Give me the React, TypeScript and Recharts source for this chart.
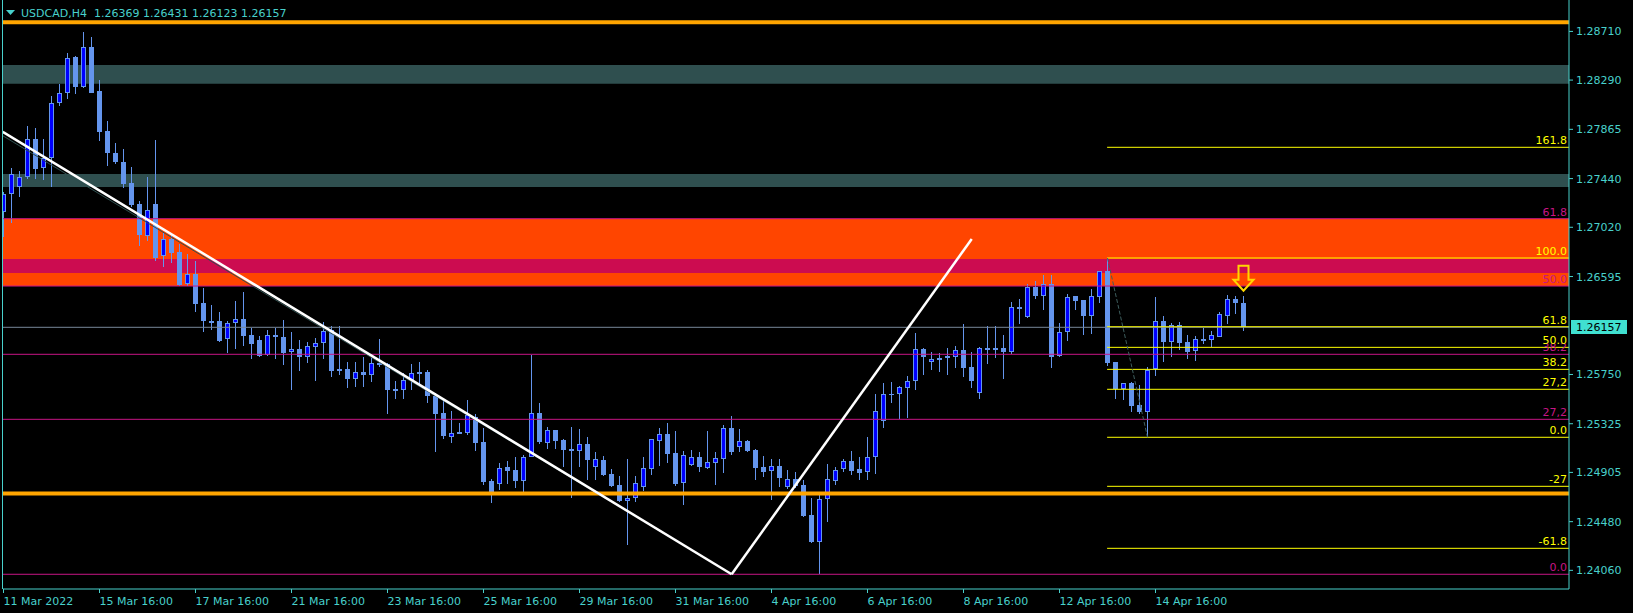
import React from 'react';
import {
  ComposedChart,
  Bar,
  XAxis,
  YAxis,
  ReferenceLine,
  ReferenceArea,
  ReferenceDot,
} from 'recharts';

// ---------- DATA ----------
const opens = [
  1.27154, 1.27305, 1.2737, 1.27451, 1.27779, 1.27529, 1.27615, 1.2809, 1.28176, 1.28489,
  1.28233, 1.28573, 1.28196, 1.27851, 1.27661, 1.27583, 1.27402, 1.27221, 1.26947, 1.27221,
  1.26775, 1.26921, 1.26804, 1.26528, 1.26617, 1.26367, 1.26211, 1.26211, 1.26053, 1.26192,
  1.26229, 1.26091, 1.26045, 1.2592, 1.26089, 1.26075, 1.25943, 1.25967, 1.25898, 1.25985,
  1.26019, 1.26134, 1.25796, 1.25797, 1.25708, 1.25769, 1.25748, 1.25849, 1.25838, 1.25625,
  1.25617, 1.25702, 1.25771, 1.25771, 1.25567, 1.25418, 1.25213, 1.25251, 1.25248, 1.25381,
  1.25167, 1.24831, 1.24808, 1.24952, 1.24926, 1.24834, 1.25036, 1.25418, 1.25161, 1.25271,
  1.25185, 1.25107, 1.25092, 1.2515, 1.24954, 1.25012, 1.24891, 1.24797, 1.24656, 1.2468,
  1.24777, 1.24937, 1.25179, 1.25237, 1.25072, 1.24816, 1.24972, 1.25035, 1.24946, 1.24989,
  1.25024, 1.25288, 1.25127, 1.25176, 1.25098, 1.24952, 1.2492, 1.24958, 1.24782, 1.24848,
  1.24794, 1.24538, 1.24305, 1.24673, 1.24828, 1.24932, 1.25004, 1.24935, 1.24906, 1.25035,
  1.25349, 1.25582, 1.25579, 1.25631, 1.25691, 1.2597, 1.25855, 1.25895, 1.25889, 1.25903,
  1.25961, 1.25814, 1.25593, 1.25964, 1.25978, 1.25978, 1.25947, 1.26332, 1.26246, 1.26507,
  1.2643, 1.26531, 1.25912, 1.26114, 1.26427, 1.26392, 1.26257, 1.26421, 1.2664, 1.25858,
  1.25622, 1.25674, 1.25487, 1.25429, 1.258, 1.26211, 1.26033, 1.26174, 1.2603, 1.2595,
  1.26056, 1.26047, 1.26076, 1.26257, 1.26399, 1.26369,
];
const highs = [
  1.27324, 1.27529, 1.27506, 1.27894, 1.27874, 1.27779, 1.28153, 1.28254, 1.28521, 1.28498,
  1.28708, 1.28659, 1.28291, 1.27937, 1.27747, 1.27693, 1.2754, 1.27247, 1.27454, 1.27773,
  1.26973, 1.26973, 1.26876, 1.26787, 1.26729, 1.265, 1.26349, 1.26289, 1.26211, 1.26384,
  1.26461, 1.26154, 1.26082, 1.26134, 1.26154, 1.2622, 1.26116, 1.26046, 1.2603, 1.26067,
  1.26203, 1.26168, 1.26164, 1.25855, 1.25855, 1.25903, 1.25895, 1.26056, 1.25849, 1.25694,
  1.2576, 1.2584, 1.25858, 1.25789, 1.25588, 1.2553, 1.25435, 1.25331, 1.2553, 1.25406,
  1.25288, 1.24851, 1.24984, 1.25004, 1.25038, 1.25055, 1.25921, 1.25504, 1.25297, 1.25271,
  1.25193, 1.25297, 1.2528, 1.25211, 1.25081, 1.25047, 1.24935, 1.24874, 1.25021, 1.24874,
  1.25035, 1.25191, 1.25288, 1.25331, 1.25262, 1.2509, 1.25098, 1.25081, 1.25262, 1.25079,
  1.25314, 1.25392, 1.25277, 1.25185, 1.25107, 1.25047, 1.25021, 1.25021, 1.24923, 1.24906,
  1.2484, 1.24682, 1.2473, 1.24975, 1.24949, 1.25021, 1.25094, 1.25041, 1.25211, 1.25582,
  1.25676, 1.25685, 1.25653, 1.25737, 1.26108, 1.25981, 1.25941, 1.25935, 1.25978, 1.25996,
  1.26185, 1.25946, 1.25984, 1.26168, 1.26168, 1.26091, 1.26375, 1.26401, 1.26531, 1.26557,
  1.26608, 1.26608, 1.26191, 1.26444, 1.26427, 1.26392, 1.26487, 1.2664, 1.26755, 1.25858,
  1.25679, 1.25685, 1.25657, 1.25814, 1.26418, 1.26255, 1.26194, 1.262, 1.26091, 1.26079,
  1.26151, 1.26125, 1.26289, 1.26433, 1.26427, 1.26431,
];
const lows = [
  1.26936, 1.2706, 1.27284, 1.27437, 1.27437, 1.27428, 1.2737, 1.28069, 1.28127, 1.2817,
  1.28225, 1.28175, 1.27764, 1.27549, 1.27569, 1.27356, 1.27198, 1.26861, 1.26902, 1.26729,
  1.2668, 1.26714, 1.26513, 1.26513, 1.26292, 1.26119, 1.26134, 1.2603, 1.25938, 1.2597,
  1.25994, 1.25881, 1.25904, 1.25912, 1.25885, 1.25828, 1.25617, 1.25783, 1.25846, 1.25696,
  1.25885, 1.25731, 1.25746, 1.25636, 1.25645, 1.25645, 1.25688, 1.25817, 1.25412, 1.25536,
  1.25541, 1.25616, 1.25668, 1.25507, 1.25084, 1.25193, 1.25161, 1.25233, 1.25228, 1.25092,
  1.24797, 1.24644, 1.24753, 1.24805, 1.24773, 1.24721, 1.25036, 1.25153, 1.2511, 1.2511,
  1.24952, 1.24687, 1.24952, 1.24837, 1.2484, 1.24874, 1.2478, 1.2465, 1.24279, 1.2465,
  1.24747, 1.24883, 1.2496, 1.24989, 1.2479, 1.24624, 1.24963, 1.24909, 1.24935, 1.24797,
  1.24903, 1.25058, 1.25081, 1.25081, 1.2484, 1.24868, 1.24667, 1.24782, 1.24764, 1.24771,
  1.24518, 1.243, 1.2403, 1.2448, 1.24799, 1.24911, 1.24883, 1.2484, 1.2484, 1.24889,
  1.25291, 1.25507, 1.25366, 1.25377, 1.25619, 1.25746, 1.25789, 1.25771, 1.25746, 1.25808,
  1.25726, 1.25633, 1.25541, 1.25838, 1.25892, 1.25714, 1.25927, 1.26188, 1.26237, 1.26401,
  1.26306, 1.25808, 1.25903, 1.26041, 1.26306, 1.26091, 1.26102, 1.26369, 1.25823, 1.25538,
  1.2553, 1.25426, 1.25409, 1.25208, 1.2574, 1.25858, 1.25903, 1.25964, 1.25886, 1.25869,
  1.26013, 1.2599, 1.26071, 1.26188, 1.26272, 1.26123,
];
const closes = [
  1.27307, 1.27477, 1.27451, 1.27779, 1.27523, 1.27615, 1.2809, 1.28176, 1.28478, 1.28233,
  1.28573, 1.28181, 1.27845, 1.27663, 1.27583, 1.27393, 1.27212, 1.26953, 1.27167, 1.26758,
  1.26919, 1.26798, 1.26522, 1.26617, 1.26362, 1.26214, 1.26192, 1.26039, 1.26192, 1.26226,
  1.26085, 1.26016, 1.25912, 1.26088, 1.26069, 1.25938, 1.25967, 1.25904, 1.25994, 1.26019,
  1.26123, 1.25783, 1.25783, 1.25708, 1.25769, 1.25748, 1.25846, 1.25834, 1.25616, 1.25607,
  1.25702, 1.2576, 1.25757, 1.25567, 1.25409, 1.25219, 1.25242, 1.25237, 1.25398, 1.25161,
  1.24822, 1.24739, 1.24941, 1.2492, 1.24834, 1.25038, 1.25415, 1.25167, 1.25271, 1.25179,
  1.25101, 1.25092, 1.25147, 1.25012, 1.25018, 1.24883, 1.24788, 1.24658, 1.24682, 1.24811,
  1.24941, 1.25191, 1.25237, 1.25064, 1.24802, 1.25053, 1.25035, 1.24952, 1.24992, 1.25027,
  1.25286, 1.25084, 1.25176, 1.2509, 1.24943, 1.24911, 1.24958, 1.24859, 1.24846, 1.24788,
  1.24529, 1.24305, 1.24673, 1.24846, 1.24926, 1.25006, 1.24917, 1.24903, 1.25035, 1.25432,
  1.25579, 1.25573, 1.25642, 1.25691, 1.2597, 1.25903, 1.25881, 1.25877, 1.25909, 1.25957,
  1.25808, 1.25696, 1.25976, 1.25978, 1.25964, 1.25947, 1.2633, 1.26315, 1.26505, 1.2643,
  1.26531, 1.25903, 1.26114, 1.26416, 1.26387, 1.26255, 1.26427, 1.2664, 1.25852, 1.25622,
  1.25674, 1.25481, 1.25426, 1.25791, 1.26211, 1.26033, 1.26174, 1.26024, 1.25947, 1.26053,
  1.26041, 1.26088, 1.26269, 1.26399, 1.26369, 1.26157,
];

const xTickIndex = [0, 12, 24, 36, 48, 60, 72, 84, 96, 108, 120, 132, 144];
const xTickLabels = [
  '11 Mar 2022', '15 Mar 16:00', '17 Mar 16:00', '21 Mar 16:00', '23 Mar 16:00',
  '25 Mar 16:00', '29 Mar 16:00', '31 Mar 16:00', '4 Apr 16:00', '6 Apr 16:00',
  '8 Apr 16:00', '12 Apr 16:00', '14 Apr 16:00',
];
const yTicks = [1.2871, 1.2829, 1.27865, 1.2744, 1.2702, 1.26595, 1.2575, 1.25325, 1.24905, 1.2448, 1.2406];

const titleText = 'USDCAD,H4  1.26369 1.26431 1.26123 1.26157';
const currentPrice = 1.26157;

// horizontal support / resistance
const orangeLines = [1.28788, 1.24724];
const tealBands = [
  [1.28258, 1.2842],
  [1.27367, 1.27479],
];
const orangeBand = [1.26513, 1.27094];
const crimsonBand = [1.26626, 1.26746];

// fibo (magenta, full width)
const magentaLevels = [1.27094, 1.26513, 1.25924, 1.25363, 1.24026];
const magentaLabels = ['61.8', '50.0', '38.2', '27,2', '0.0'];

// fibo (yellow, from 13 Apr)
const fiboStartBar = 137.95;
const yellowLevels = [1.2771, 1.26755, 1.26162, 1.25984, 1.25794, 1.25622, 1.25208, 1.24785, 1.2425];
const yellowLabels = ['161.8', '100.0', '61.8', '50.0', '38.2', '27,2', '0.0', '-27', '-61.8'];
const fiboAnchor = [
  { x: 138, y: 1.26755 },
  { x: 143, y: 1.25208 },
];

// trend lines
const trendDown = [
  { x: -0.1, y: 1.27844 },
  { x: 91.02, y: 1.24026 },
];
const trendDownThin = [
  { x: -0.1, y: 1.2781 },
  { x: 91.02, y: 1.24026 },
];
const trendUp = [
  { x: 91.02, y: 1.24026 },
  { x: 121.03, y: 1.26919 },
];
const arrowPoint = { x: 155, y: 1.26473 };

// ---------- STYLE ----------
const W = 1633;
const H = 613;
const X_MIN = -0.0625;
const X_MAX = 195.6875;
const Y_MIN = 1.23899;
const Y_MAX = 1.28981;
const TURQ = '#48D1CC';
const FONT = '"DejaVu Sans", sans-serif';
const BULL = '#0000FF';
const BEAR = '#6495ED';
const MAGENTA = '#C71585';
const YELLOW = '#FFFF00';

const data = opens.map((o, i) => ({
  i,
  o,
  h: highs[i],
  l: lows[i],
  c: closes[i],
  range: [lows[i], highs[i]],
}));

const Candle = (props: any) => {
  const { x, y, width, height, payload } = props;
  if (x == null || y == null || !payload) return null;
  const cx = Math.round(x + width / 2 - 0.5) + 0.5;
  const top = Math.min(y, y + height);
  const bot = Math.max(y, y + height);
  const { o, h, l, c } = payload;
  const k = h > l ? (bot - top) / (h - l) : 0;
  const py = (v: number) => top + (h - v) * k;
  const yO = py(o);
  const yC = py(c);
  const bull = c > o;
  const bTop = Math.round(Math.min(yO, yC));
  let bBot = Math.round(Math.max(yO, yC));
  if (bull) bBot = Math.max(bBot, bTop + 2);
  else bBot = Math.max(bBot, bTop + 1);
  return (
    <g>
      <line
        x1={cx}
        x2={cx}
        y1={Math.round(top)}
        y2={Math.max(Math.round(bot), Math.round(top) + 1)}
        stroke={BEAR}
        strokeWidth={1}
        shapeRendering="crispEdges"
      />
      {bull ? (
        <rect
          x={cx - 2}
          y={bTop + 0.5}
          width={4}
          height={bBot - bTop - 1}
          fill={BULL}
          stroke={BEAR}
          strokeWidth={1}
          shapeRendering="crispEdges"
        />
      ) : (
        <rect x={cx - 2.5} y={bTop} width={5} height={bBot - bTop} fill={BEAR} shapeRendering="crispEdges" />
      )}
    </g>
  );
};

const XTick = (props: any) => {
  const { x, y, payload } = props;
  const idx = xTickIndex.indexOf(payload.value);
  return (
    <text x={x} y={y + 10} textAnchor="start" fill={TURQ} fontSize={11} fontFamily={FONT}>
      {idx >= 0 ? xTickLabels[idx] : ''}
    </text>
  );
};

const YTick = (props: any) => {
  const { x, y, payload } = props;
  return (
    <text x={x + 1} y={y + 4} textAnchor="start" fill={TURQ} fontSize={11} fontFamily={FONT}>
      {Number(payload.value).toFixed(5)}
    </text>
  );
};

const levelLabel = (text: string, color: string) => (p: any) => (
  <text x={p.cx - 2} y={p.cy - 3} textAnchor="end" fill={color} fontSize={11} fontFamily={FONT}>
    {text}
  </text>
);

const PriceTag = (p: any) => (
  <g>
    <rect x={p.cx + 2} y={Math.round(p.cy) - 7} width={56} height={14} fill="#40E0D0" />
    <text x={p.cx + 7} y={Math.round(p.cy) + 4} fill="#000" fontSize={11} fontFamily={FONT}>
      {currentPrice.toFixed(5)}
    </text>
  </g>
);

const Arrow = (p: any) => {
  const cx = p.cx;
  const cy = p.cy;
  const pts = [
    [cx - 5, cy - 25],
    [cx + 5, cy - 25],
    [cx + 5, cy - 11],
    [cx + 10, cy - 11],
    [cx, cy],
    [cx - 10, cy - 11],
    [cx - 5, cy - 11],
  ]
    .map((q) => q.join(','))
    .join(' ');
  return <polygon points={pts} fill="none" stroke="#FFD700" strokeWidth={2} strokeLinejoin="miter" />;
};

export default function App() {
  return (
    <div style={{ position: 'absolute', left: 0, top: 0, width: W, height: H, background: '#000', overflow: 'hidden' }}>
      <ComposedChart width={W} height={H} data={data} margin={{ top: 0, right: 0, bottom: 0, left: 3 }}>
        <XAxis
          dataKey="i"
          type="number"
          domain={[X_MIN, X_MAX]}
          allowDataOverflow
          ticks={xTickIndex}
          interval={0}
          height={24}
          tickSize={4}
          axisLine={{ stroke: TURQ }}
          tickLine={{ stroke: TURQ }}
          tick={<XTick />}
        />
        <YAxis
          orientation="right"
          type="number"
          domain={[Y_MIN, Y_MAX]}
          allowDataOverflow
          ticks={yTicks}
          interval={0}
          width={64}
          tickSize={4}
          axisLine={{ stroke: TURQ }}
          tickLine={{ stroke: TURQ }}
          tick={<YTick />}
        />

        {tealBands.map((b, k) => (
          <ReferenceArea key={'t' + k} y1={b[0]} y2={b[1]} fill="#2F4F4F" fillOpacity={1} stroke="none" ifOverflow="visible" />
        ))}
        <ReferenceArea y1={orangeBand[0]} y2={orangeBand[1]} fill="#FF4500" fillOpacity={1} stroke="none" ifOverflow="visible" />
        <ReferenceArea y1={crimsonBand[0]} y2={crimsonBand[1]} fill="#CC0C50" fillOpacity={1} stroke="none" ifOverflow="visible" />

        <ReferenceLine x={-0.125} stroke={TURQ} strokeWidth={1} ifOverflow="visible" />

        {magentaLevels.map((v, k) => (
          <ReferenceLine key={'m' + k} y={v} stroke={MAGENTA} strokeWidth={1} ifOverflow="visible" />
        ))}
        <ReferenceLine y={currentPrice} stroke="#778899" strokeWidth={1} />
        {yellowLevels.map((v, k) => (
          <ReferenceLine
            key={'y' + k}
            segment={[
              { x: fiboStartBar, y: v },
              { x: X_MAX, y: v },
            ]}
            stroke={YELLOW}
            strokeWidth={1}
            ifOverflow="visible"
          />
        ))}
        {orangeLines.map((v, k) => (
          <ReferenceLine key={'o' + k} y={v} stroke="#FFA500" strokeWidth={4} ifOverflow="visible" />
        ))}

        <Bar dataKey="range" barSize={5} isAnimationActive={false} shape={<Candle />} />

        <ReferenceLine segment={fiboAnchor} stroke="#3E5E5E" strokeWidth={1} strokeDasharray="4 2" ifOverflow="visible" />
        <ReferenceLine segment={trendDownThin} stroke="#2F4F4F" strokeWidth={1} ifOverflow="hidden" />
        <ReferenceLine segment={trendDown} stroke="#FFFFFF" strokeWidth={2.5} ifOverflow="hidden" />
        <ReferenceLine segment={trendUp} stroke="#FFFFFF" strokeWidth={2.5} ifOverflow="hidden" />

        {magentaLevels.map((v, k) => (
          <ReferenceDot key={'ml' + k} x={X_MAX} y={v} r={0} ifOverflow="visible" shape={levelLabel(magentaLabels[k], MAGENTA)} />
        ))}
        {yellowLevels.map((v, k) => (
          <ReferenceDot key={'yl' + k} x={X_MAX} y={v} r={0} ifOverflow="visible" shape={levelLabel(yellowLabels[k], YELLOW)} />
        ))}
        <ReferenceDot x={X_MAX} y={currentPrice} r={0} ifOverflow="visible" shape={PriceTag} />
        <ReferenceDot x={arrowPoint.x} y={arrowPoint.y} r={0} ifOverflow="visible" shape={Arrow} />
      </ComposedChart>
      <svg width={320} height={22} style={{ position: 'absolute', left: 0, top: 0, pointerEvents: 'none' }}>
        <polygon points="6,10 15,10 10.5,15" fill={TURQ} />
        <text x={21} y={17} fill={TURQ} fontSize={11} fontFamily={FONT} style={{ whiteSpace: 'pre' }}>
          {titleText}
        </text>
      </svg>
    </div>
  );
}
